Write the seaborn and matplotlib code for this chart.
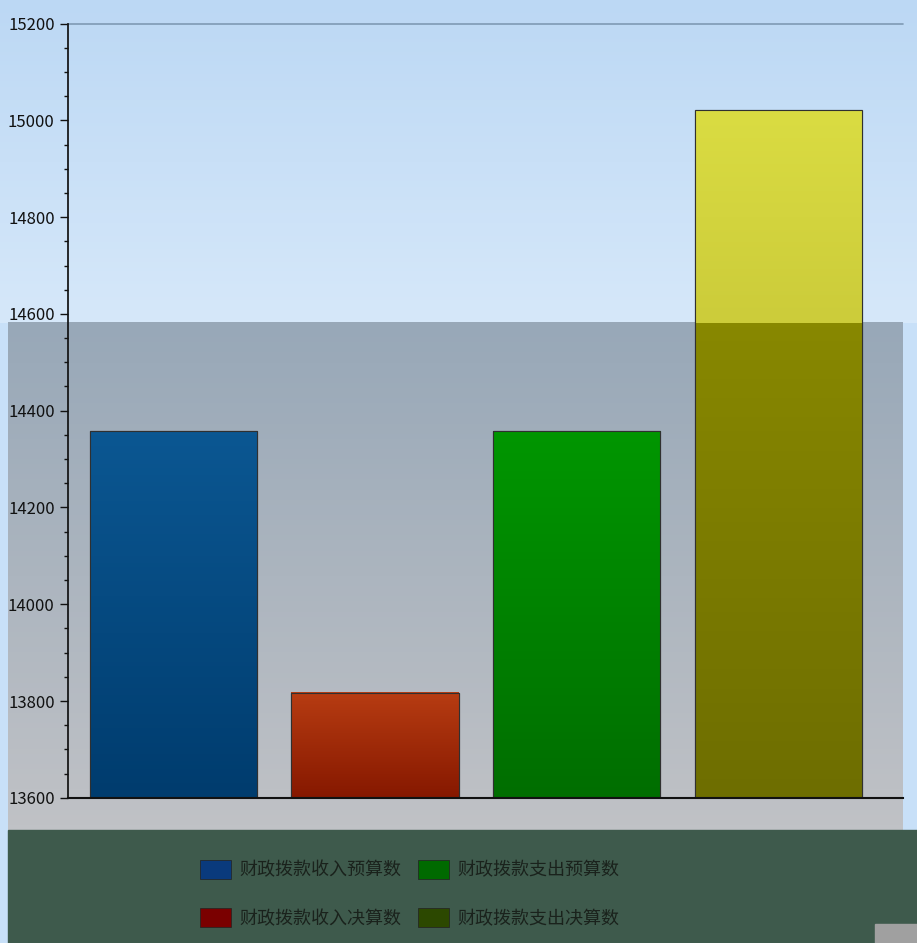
import matplotlib
matplotlib.use("Agg")
import matplotlib.pyplot as plt
import matplotlib.patches as mpatches
from matplotlib.colors import LinearSegmentedColormap
import numpy as np
import pandas as pd
import seaborn as sns

categories = ["财政拨款收入预算数", "财政拨款收入决算数", "财政拨款支出预算数", "财政拨款支出决算数"]
values = [14357, 13817, 14357, 15022]
bar_colors = ["#0b4f8c", "#ac3210", "#00880a", "#7c7c00"]
# (bottom, top) gradient of each bar
bar_grad = [("#003c6e", "#0b5792"), ("#861800", "#b73c12"), ("#006e00", "#009600"), ("#6e6e00", "#888800")]
legend_colors = ["#0a3a7c", "#7a0000", "#006a00", "#2c4800"]
yticks = [13600, 13800, 14000, 14200, 14400, 14600, 14800, 15000, 15200]

sns.set_theme(style="white")
plt.rcParams["font.family"] = ["Noto Sans CJK SC", "DejaVu Sans"]

df = pd.DataFrame({"cat": categories, "val": values})
ramp = np.linspace(0, 1, 100).reshape(-1, 1)

fig = plt.figure(figsize=(9.17, 9.43), dpi=100)
fig.patch.set_facecolor("#c8e0f8")

# background bands (light blue top, grey middle, dark green legend strip)
bg = fig.add_axes([0, 0, 1, 1], zorder=0)
bg.set_axis_off()
bg.imshow(ramp, extent=[0, 1, 0.658, 1], cmap=LinearSegmentedColormap.from_list(
    "b", ["#d6e8fa", "#bcd8f4"]), aspect="auto", origin="lower")
bg.imshow(ramp, extent=[0.009, 0.985, 0.12, 0.658], cmap=LinearSegmentedColormap.from_list(
    "g", ["#c0c2c6", "#98a8b8"]), aspect="auto", origin="lower")
bg.add_patch(mpatches.Rectangle((0.009, 0), 0.991, 0.12, color="#3e5a4c"))
bg.add_patch(mpatches.Rectangle((0.954, 0), 0.046, 0.02, color="#a0a0a0"))
bg.set_xlim(0, 1)
bg.set_ylim(0, 1)

ax = fig.add_axes([0.074, 0.154, 0.911, 0.821], zorder=1)
ax.set_facecolor("none")
sns.barplot(data=df, x="cat", y="val", hue="cat", palette=bar_colors, legend=False,
            width=0.83, ax=ax, edgecolor="#2a2a2a", linewidth=0.8, saturation=1)

ylo, yhi = 13600, 15200
xlo, xhi = -0.523, 3.62
ax.set_ylim(ylo, yhi)
ax.set_xlim(xlo, xhi)

# vertical gradient fills over the visible part of each bar
split_y = ax.transData.inverted().transform(fig.transFigure.transform((0, 0.658)))[1]
bars = list(ax.patches[:4])
for i, (p, (c0, c1)) in enumerate(zip(bars, bar_grad)):
    x0, w = p.get_x(), p.get_width()
    top = p.get_y() + p.get_height()
    top_lo = min(top, split_y) if i == 3 else top
    ax.imshow(ramp, extent=[x0, x0 + w, ylo, top_lo], origin="lower", aspect="auto",
              cmap=LinearSegmentedColormap.from_list("c", [c0, c1]), zorder=p.get_zorder() + 0.1)
    if i == 3 and top > split_y:
        # upper part of the last bar shows in yellow
        ax.imshow(ramp, extent=[x0, x0 + w, split_y, top], origin="lower", aspect="auto",
                  cmap=LinearSegmentedColormap.from_list("y", ["#cccc3a", "#dadc42"]),
                  zorder=p.get_zorder() + 0.2)
    ax.add_patch(mpatches.Rectangle((x0, ylo), w, top - ylo, facecolor="none",
                                    edgecolor="#303030", linewidth=0.8, zorder=p.get_zorder() + 0.3))
ax.set_ylim(ylo, yhi)
ax.set_xlim(xlo, xhi)

ax.set_yticks(yticks)
ax.set_yticks(np.arange(13600, 15201, 50), minor=True)
ax.tick_params(axis="y", which="major", direction="out", length=6, width=1, color="#111111",
               labelsize=12, labelcolor="#111111", left=True)
ax.tick_params(axis="y", which="minor", direction="out", length=3, width=1, color="#111111", left=True)
ax.set_xticks([])
ax.set_xlabel("")
ax.set_ylabel("")
for s in ["top", "right"]:
    ax.spines[s].set_visible(False)
ax.spines["left"].set_color("#111111")
ax.spines["bottom"].set_color("#111111")
ax.spines["bottom"].set_linewidth(1.5)
ax.axhline(yhi, color="#7f9ab4", linewidth=1.2, clip_on=False)

handles = [mpatches.Patch(facecolor=c, edgecolor="#222222", linewidth=0.5) for c in legend_colors]
leg = fig.legend(handles, categories, loc="center", bbox_to_anchor=(0.447, 0.052), ncol=2,
                 frameon=False, fontsize=13, labelspacing=1.6, columnspacing=0.9,
                 handlelength=1.7, handleheight=1.2, handletextpad=0.5)
for t in leg.get_texts():
    t.set_color("#1a221c")

fig.savefig("out.png", dpi=100)
